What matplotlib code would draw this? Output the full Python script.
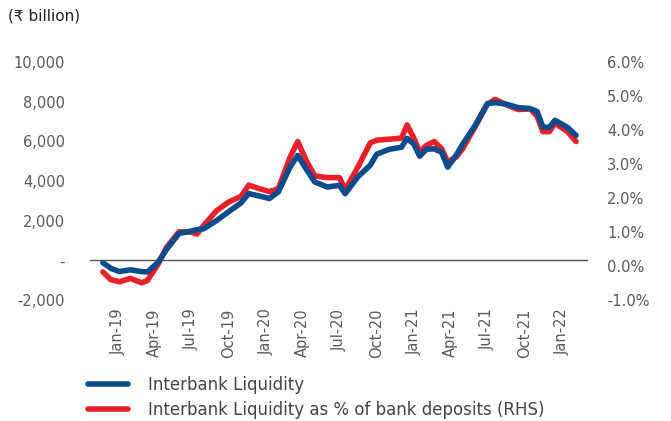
import matplotlib
matplotlib.use('Agg')
import matplotlib.pyplot as plt
import matplotlib.dates as mdates
import matplotlib.ticker as mticker
import pandas as pd

plt.rcParams['font.family'] = ['DejaVu Sans']

# data
dates = ['2018-11-25', '2018-12-15', '2019-01-05', '2019-02-01', '2019-03-01', '2019-03-15',
         '2019-04-10', '2019-05-01', '2019-06-01', '2019-07-01', '2019-07-15', '2019-08-01',
         '2019-09-01', '2019-10-01', '2019-11-01', '2019-11-20', '2019-12-15', '2020-01-10',
         '2020-02-01', '2020-03-01', '2020-03-20', '2020-04-10', '2020-05-01', '2020-06-01',
         '2020-07-01', '2020-07-15', '2020-08-15', '2020-09-15', '2020-10-01', '2020-11-01',
         '2020-12-01', '2020-12-15', '2021-01-01', '2021-01-15', '2021-02-01', '2021-02-20',
         '2021-03-10', '2021-03-25', '2021-04-15', '2021-05-01', '2021-06-01', '2021-07-01',
         '2021-07-20', '2021-08-15', '2021-09-15', '2021-10-15', '2021-11-01', '2021-11-15',
         '2021-12-01', '2021-12-15', '2022-01-15', '2022-02-05']
liquidity = [-115, -400, -560, -470, -560, -580,
             -100, 550, 1360, 1480, 1550, 1600,
             2000, 2450, 2900, 3370, 3250, 3120,
             3450, 4700, 5290, 4600, 3950, 3700,
             3780, 3360, 4200, 4800, 5350, 5600,
             5700, 6150, 5850, 5250, 5600, 5620,
             5450, 4700, 5300, 5850, 6800, 7900,
             7950, 7880, 7700, 7650, 7500, 6720,
             6700, 7060, 6700, 6300]
liq_pct = [-0.17, -0.40, -0.46, -0.36, -0.49, -0.42,
           0.05, 0.55, 1.01, 1.00, 0.94, 1.20,
           1.62, 1.88, 2.05, 2.38, 2.28, 2.19,
           2.27, 3.20, 3.66, 3.10, 2.65, 2.60,
           2.60, 2.24, 2.90, 3.62, 3.70, 3.73,
           3.76, 4.15, 3.75, 3.36, 3.55, 3.66,
           3.45, 3.07, 3.20, 3.45, 4.10, 4.75,
           4.90, 4.75, 4.60, 4.62, 4.40, 3.95,
           3.95, 4.20, 3.95, 3.66]
tick_dates = ['2019-01-01', '2019-04-01', '2019-07-01', '2019-10-01', '2020-01-01', '2020-04-01',
              '2020-07-01', '2020-10-01', '2021-01-01', '2021-04-01', '2021-07-01', '2021-10-01',
              '2022-01-01']

x = pd.to_datetime(dates)
blue = '#0A4C8C'
red = '#E8202A'
grey = '#595959'

fig = plt.figure(figsize=(6.71, 4.21), dpi=100)
ax = fig.add_axes([0.134, 0.287, 0.742, 0.566])
ax2 = ax.twinx()

ax2.plot(x, liq_pct, color=red, lw=4, solid_capstyle='round', solid_joinstyle='round',
         label='Interbank Liquidity as % of bank deposits (RHS)')
ax.plot(x, liquidity, color=blue, lw=4, solid_capstyle='round', solid_joinstyle='round',
        label='Interbank Liquidity', zorder=3)
ax.set_zorder(ax2.get_zorder() + 1)
ax.patch.set_visible(False)

ax.axhline(0, color='#555555', lw=1, zorder=1)

ax.set_ylim(-2000, 10000)
ax.set_yticks(range(-2000, 10001, 2000))
ax.yaxis.set_major_formatter(mticker.FuncFormatter(lambda v, p: '-' if v == 0 else f'{v:,.0f}'))
ax2.set_ylim(-1, 6)
ax2.set_yticks(range(-1, 7))
ax2.yaxis.set_major_formatter(mticker.FuncFormatter(lambda v, p: f'{v:.1f}%'))

ax.set_xlim(pd.Timestamp('2018-10-24'), pd.Timestamp('2022-03-06'))
ax.set_xticks(pd.to_datetime(tick_dates))
ax.xaxis.set_major_formatter(mdates.DateFormatter('%b-%y'))

for a in (ax, ax2):
    for s in a.spines.values():
        s.set_visible(False)
    a.tick_params(length=0, colors=grey, labelsize=10.5)
ax.tick_params(axis='y', pad=18)
ax2.tick_params(axis='y', pad=14)
ax.tick_params(axis='x', pad=6, labelrotation=90, labelsize=10.5)

fig.text(0.012, 0.963, '(\u20b9 billion)', fontsize=11, color='#222222', va='center')

h1, l1 = ax.get_legend_handles_labels()
h2, l2 = ax2.get_legend_handles_labels()
leg = fig.legend(h1 + h2, l1 + l2, loc='upper left', bbox_to_anchor=(0.131, 0.108),
                 frameon=False, fontsize=12, handlelength=2.4, handletextpad=1.2,
                 labelspacing=0.45, borderaxespad=0, borderpad=0)
for t in leg.get_texts():
    t.set_color('#444444')

fig.savefig('out.png', dpi=100)
